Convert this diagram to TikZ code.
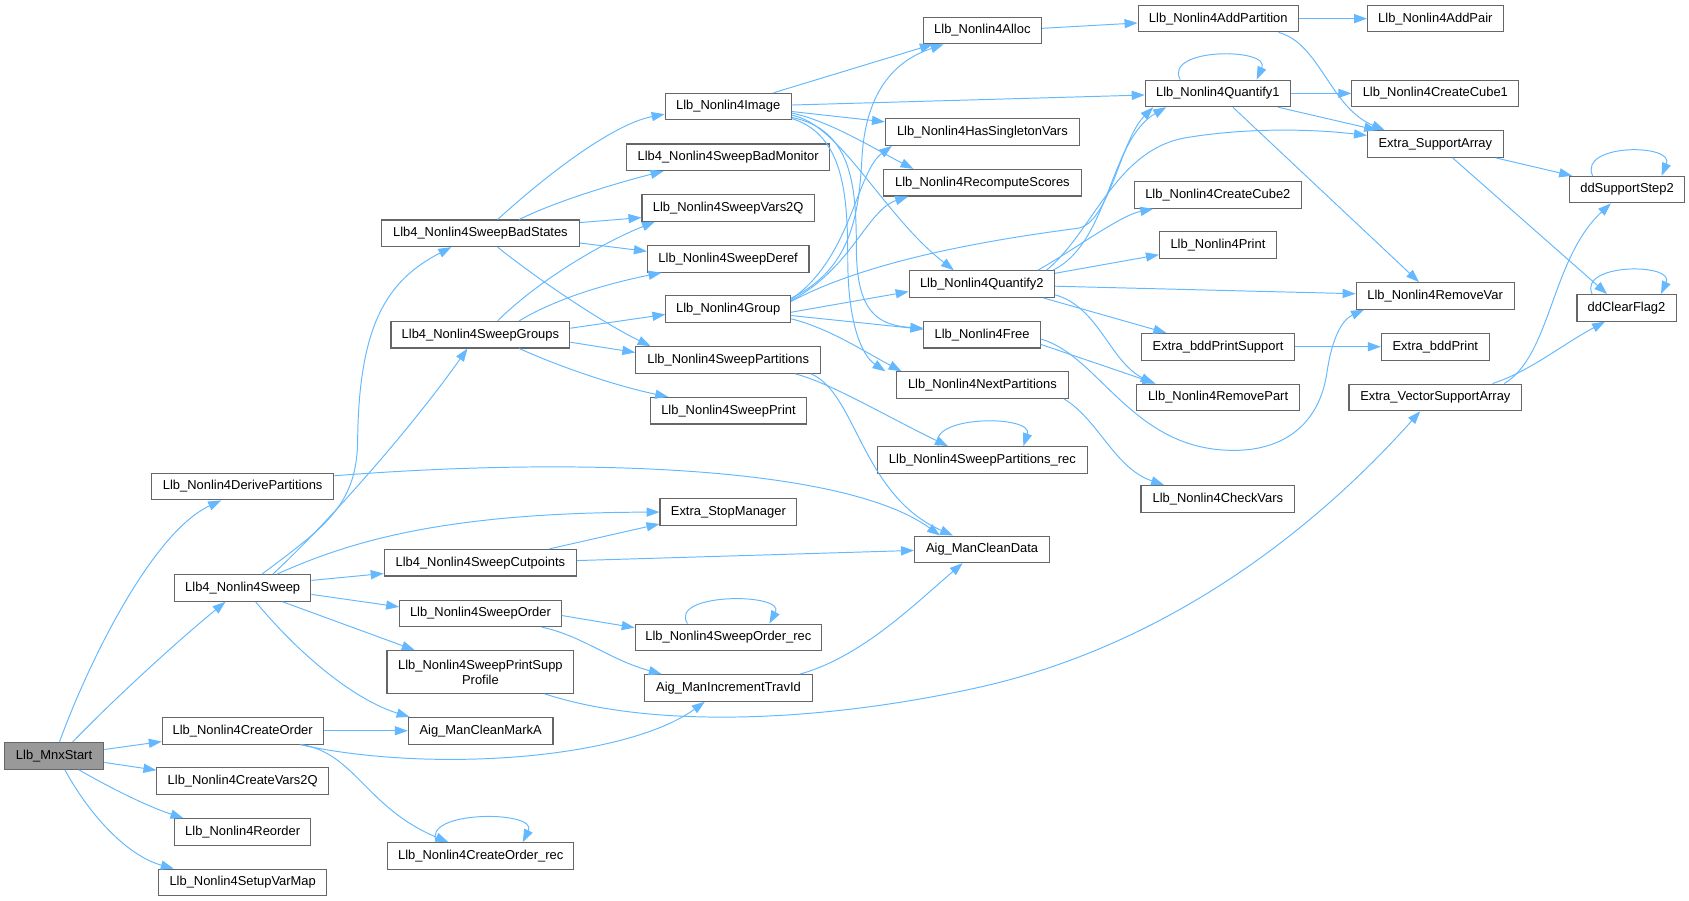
\documentclass[tikz,border=0pt]{standalone}
\usepackage{fontspec}
\setmainfont{Liberation Sans}
\usetikzlibrary{arrows.meta}

\definecolor{edgeblue}{HTML}{63B8FF}
\definecolor{nodeborder}{HTML}{666666}
\definecolor{rootfill}{HTML}{999999}

\tikzset{
  fn/.style={draw=nodeborder, line width=1pt, fill=white, rectangle,
    minimum height=24.7pt, inner sep=0pt, align=center,
    font=\fontsize{12}{14}\selectfont},
  root/.style={fn, fill=rootfill},
  w/.style={minimum width=#1pt},
  call/.style={draw=edgeblue, line width=0.9pt, -{Triangle[length=12pt,width=8.5pt]}}
}

\begin{document}
\begin{tikzpicture}[x=1pt, y=-1pt]
\useasboundingbox (0,0) rectangle (1568,836);

% Define boxes
\node[root, w=92.3] (mnxstart) at (50.2,701.8) {Llb\_MnxStart};

\node[fn, w=169.3] (derive) at (225.3,451.7) {Llb\_Nonlin4DerivePartitions};
\node[fn, w=126.7] (sweep) at (225.3,545.8) {Llb4\_Nonlin4Sweep};
\node[fn, w=149.3] (createorder) at (225.3,678.4) {Llb\_Nonlin4CreateOrder};
\node[fn, w=159.3] (createvars) at (225.3,725) {Llb\_Nonlin4CreateVars2Q};
\node[fn, w=126] (reorder) at (225.3,772.4) {Llb\_Nonlin4Reorder};
\node[fn, w=156] (setupvarmap) at (225.3,819.2) {Llb\_Nonlin4SetupVarMap};

\node[fn, w=184] (badstates) at (446,216.6) {Llb4\_Nonlin4SweepBadStates};
\node[fn, w=166] (groups) at (446,310.7) {Llb4\_Nonlin4SweepGroups};
\node[fn, w=178.7] (cutpoints) at (446,522.4) {Llb4\_Nonlin4SweepCutpoints};
\node[fn, w=150] (sweeporder) at (446,569.4) {Llb\_Nonlin4SweepOrder};
\node[fn, w=173.4, minimum height=39.7pt] (printsupp) at (446,623.9) {Llb\_Nonlin4SweepPrintSupp\\Profile};
\node[fn, w=134.3] (cleanmarka) at (446.2,678.4) {Aig\_ManCleanMarkA};
\node[fn, w=172.7] (createorderrec) at (446.3,794.7) {Llb\_Nonlin4CreateOrder\_rec};

\node[fn, w=117] (image) at (676,99) {Llb\_Nonlin4Image};
\node[fn, w=188] (badmonitor) at (676,146) {Llb4\_Nonlin4SweepBadMonitor};
\node[fn, w=160] (vars2q) at (676,193) {Llb\_Nonlin4SweepVars2Q};
\node[fn, w=150] (deref) at (676,240.3) {Llb\_Nonlin4SweepDeref};
\node[fn, w=115.6] (group) at (676,286.9) {Llb\_Nonlin4Group};
\node[fn, w=171.6] (partitions) at (676,334.2) {Llb\_Nonlin4SweepPartitions};
\node[fn, w=145.3] (sweepprint) at (676.3,381.3) {Llb\_Nonlin4SweepPrint};
\node[fn, w=127] (stopmanager) at (676.2,475.4) {Extra\_StopManager};
\node[fn, w=173] (orderrec) at (676.2,591.7) {Llb\_Nonlin4SweepOrder\_rec};
\node[fn, w=155.3] (travid) at (676.3,638.7) {Aig\_ManIncrementTravId};

\node[fn, w=110] (alloc) at (912,28.3) {Llb\_Nonlin4Alloc};
\node[fn, w=180] (singleton) at (912,122.6) {Llb\_Nonlin4HasSingletonVars};
\node[fn, w=184] (recompute) at (912,169.6) {Llb\_Nonlin4RecomputeScores};
\node[fn, w=135] (quantify2) at (911.5,263.7) {Llb\_Nonlin4Quantify2};
\node[fn, w=108] (free) at (911.7,310.7) {Llb\_Nonlin4Free};
\node[fn, w=160.3] (nextpart) at (912,357.6) {Llb\_Nonlin4NextPartitions};
\node[fn, w=194.7] (partrec) at (912,427) {Llb\_Nonlin4SweepPartitions\_rec};
\node[fn, w=125.4] (cleandata) at (911.7,510) {Aig\_ManCleanData};

\node[fn, w=149] (addpartition) at (1131,17.3) {Llb\_Nonlin4AddPartition};
\node[fn, w=135] (quantify1) at (1130.6,86.7) {Llb\_Nonlin4Quantify1};
\node[fn, w=155] (cube2) at (1130.6,181) {Llb\_Nonlin4CreateCube2};
\node[fn, w=108.7] (print) at (1130.7,227.5) {Llb\_Nonlin4Print};
\node[fn, w=141.6] (bddprintsupp) at (1130.8,321.9) {Extra\_bddPrintSupport};
\node[fn, w=151] (removepart) at (1130.8,368.9) {Llb\_Nonlin4RemovePart};
\node[fn, w=142.7] (checkvars) at (1130.6,463) {Llb\_Nonlin4CheckVars};

\node[fn, w=126] (addpair) at (1332.5,17.3) {Llb\_Nonlin4AddPair};
\node[fn, w=155] (cube1) at (1332.5,86.7) {Llb\_Nonlin4CreateCube1};
\node[fn, w=126] (supparray) at (1332.5,133.7) {Extra\_SupportArray};
\node[fn, w=146.7] (removevar) at (1332.3,274.7) {Llb\_Nonlin4RemoveVar};
\node[fn, w=100.3] (bddprint) at (1332.5,321.9) {Extra\_bddPrint};
\node[fn, w=160.3] (vecsupp) at (1332.5,368.9) {Extra\_VectorSupportArray};

\node[fn, w=107] (suppstep) at (1510.5,176) {ddSupportStep2};
\node[fn, w=92] (clearflag) at (1510,285.8) {ddClearFlag2};

% Draw arrows
\draw[call] ([xshift=5pt]mnxstart.north) .. controls (80,620) and (140,495) .. ([xshift=-20pt]derive.south);
\draw[call] ([xshift=17pt]mnxstart.north) .. controls (110,645) and (165,595) .. ([xshift=-16pt]sweep.south);
\draw[call] ([yshift=6pt]mnxstart.east) -- ([yshift=-10pt]createorder.west);
\draw[call] ([yshift=-6pt]mnxstart.east) -- ([yshift=10pt]createvars.west);
\draw[call] ([xshift=23pt]mnxstart.south) .. controls (100,730) and (135,748) .. ([xshift=-55pt]reorder.north);
\draw[call] ([xshift=10pt]mnxstart.south) .. controls (85,760) and (120,795) .. ([xshift=-64pt]setupvarmap.north);

\draw[call] ([xshift=18pt]sweep.north) .. controls (300,490) and (331,470) .. (332,410) .. controls (333,300) and (360,260) .. ([xshift=-27pt]badstates.south);
\draw[call] ([xshift=28pt]sweep.north) .. controls (300,490) and (380,400) .. ([xshift=-12pt]groups.south);
\draw[call] ([xshift=32pt]sweep.north) .. controls (330,500) and (420,476) .. (stopmanager.west);
\draw[call] ([yshift=7pt]sweep.east) -- ([yshift=-10pt]cutpoints.west);
\draw[call] ([yshift=-6pt]sweep.east) -- ([yshift=6pt]sweeporder.west);
\draw[call] ([xshift=37pt]sweep.south) -- ([xshift=-61pt]printsupp.north);
\draw[call] ([xshift=12pt]sweep.south) .. controls (280,610) and (330,650) .. ([xshift=-66pt]cleanmarka.north);

\draw[call] ([yshift=10pt]derive.east) .. controls (520,425) and (780,430) .. ([xshift=-39pt]cleandata.north);

\draw[call] ([xshift=16pt]badstates.north) .. controls (510,160) and (570,115) .. ([yshift=-7pt]image.west);
\draw[call] ([xshift=36pt]badstates.north) .. controls (520,185) and (580,168) .. ([xshift=-60pt]badmonitor.south);
\draw[call] ([yshift=10pt]badstates.east) -- ([yshift=-9pt]vars2q.west);
\draw[call] ([yshift=-9pt]badstates.east) -- ([yshift=7pt]deref.west);
\draw[call] ([xshift=16pt]badstates.south) .. controls (500,260) and (560,300) .. ([xshift=-72pt]partitions.north);

\draw[call] ([xshift=16pt]groups.north) .. controls (500,260) and (560,225) .. ([xshift=-68pt]vars2q.south);
\draw[call] ([xshift=36pt]groups.north) .. controls (520,275) and (570,262) .. ([xshift=-62pt]deref.south);
\draw[call] ([yshift=6pt]groups.east) -- ([yshift=-5pt]group.west);
\draw[call] ([yshift=-7pt]groups.east) -- ([yshift=7pt]partitions.west);
\draw[call] ([xshift=36pt]groups.south) .. controls (530,345) and (580,360) .. ([xshift=-56pt]sweepprint.north);

\draw[call] ([xshift=42pt]image.north) -- ([xshift=-46pt]alloc.south);
\draw[call] ([yshift=1.5pt]image.east) -- ([yshift=-1.5pt]quantify1.west);
\draw[call] ([yshift=-4.5pt]image.east) -- ([yshift=9.5pt]singleton.west);
\draw[call] ([yshift=-6pt]image.east) .. controls (770,112) and (815,140) .. ([xshift=-64pt]recompute.north);
\draw[call] ([yshift=-8pt]image.east) .. controls (780,115) and (820,200) .. ([xshift=-26pt]quantify2.north);
\draw[call] ([yshift=-10pt]image.east) .. controls (790,120) and (795,170) .. (795,230) .. controls (795,290) and (815,302) .. ([yshift=6pt]free.west);
\draw[call] ([yshift=-11pt]image.east) .. controls (783,125) and (787,180) .. (787,240) .. controls (787,300) and (800,330) .. ([xshift=-90pt]nextpart.north);

\draw[call] ([yshift=10pt]group.east) .. controls (790,250) and (797,200) .. (800,150) .. controls (803,80) and (835,55) .. ([xshift=-36pt]alloc.south);
\draw[call] ([yshift=9pt]group.east) .. controls (790,240) and (795,160) .. ([xshift=-84pt]singleton.south);
\draw[call] ([yshift=8pt]group.east) .. controls (790,250) and (805,195) .. ([xshift=-69pt]recompute.south);
\draw[call] ([yshift=7pt]group.east) .. controls (800,245) and (900,225) .. (1000,212) .. controls (1030,208) and (1040,130) .. ([xshift=-60pt]quantify1.south);
\draw[call] ([yshift=-3pt]group.east) -- ([yshift=-7pt]quantify2.west);
\draw[call] ([yshift=-6pt]group.east) -- ([yshift=5pt]free.west);
\draw[call] ([yshift=-9pt]group.east) .. controls (770,305) and (800,325) .. ([xshift=-75pt]nextpart.north);

\draw[call] ([xshift=66pt]quantify2.north) .. controls (1030,225) and (1030,130) .. ([xshift=-48pt]quantify1.south);
\draw[call] ([xshift=60pt]quantify2.north) .. controls (1015,215) and (1035,140) .. (1100,128) .. controls (1160,118) and (1220,120) .. ([yshift=8pt]supparray.west);
\draw[call] ([xshift=52pt]quantify2.north) .. controls (1000,230) and (1040,200) .. ([xshift=-60pt]cube2.south);
\draw[call] ([yshift=10pt]quantify2.east) -- ([yshift=-9pt]print.west);
\draw[call] ([yshift=-2pt]quantify2.east) -- ([yshift=2pt]removevar.west);
\draw[call] ([xshift=57pt]quantify2.south) -- ([xshift=-48pt]bddprintsupp.north);
\draw[call] ([yshift=-10pt]quantify2.east) .. controls (1020,285) and (1030,335) .. ([xshift=-60pt]removepart.north);

\draw[call] ([yshift=-9pt]free.east) -- ([xshift=-58pt]removepart.north);
\draw[call] ([yshift=-4pt]free.east) .. controls (1020,330) and (1050,415) .. (1140,418) .. controls (1190,420) and (1225,395) .. (1232,345) .. controls (1238,305) and (1250,295) .. ([xshift=-66pt]removevar.south);

\draw[call] ([xshift=76pt]nextpart.south) .. controls (1020,390) and (1035,435) .. ([xshift=-50pt]checkvars.north);

\draw[call] ([xshift=62pt]partitions.south) .. controls (770,355) and (820,385) .. ([xshift=-32pt]partrec.north);
\draw[call] ([xshift=77pt]partitions.south) .. controls (795,365) and (800,460) .. ([xshift=-27pt]cleandata.north);
\draw[call] ([xshift=-41pt]partrec.north) .. controls (860,385) and (960,385) .. ([xshift=38pt]partrec.north);

\draw[call] ([xshift=64pt]cutpoints.north) -- ([yshift=-11pt]stopmanager.west);
\draw[call] ([yshift=2pt]cutpoints.east) -- ([yshift=-1pt]cleandata.west);

\draw[call] ([yshift=-2pt]sweeporder.east) -- ([yshift=9pt]orderrec.west);
\draw[call] ([xshift=57pt]sweeporder.south) .. controls (540,590) and (565,612) .. ([xshift=-62pt]travid.north);
\draw[call] ([xshift=-38pt]orderrec.north) .. controls (620,550) and (730,550) .. ([xshift=38pt]orderrec.north);

\draw[call] ([xshift=66pt]travid.north) .. controls (800,610) and (850,560) .. ([xshift=-18pt]cleandata.south);
\draw[call] ([xshift=60pt]printsupp.south) .. controls (600,675) and (750,672) .. (900,640) .. controls (1100,598) and (1240,470) .. ([xshift=-14pt]vecsupp.south);

\draw[call] (createorder.east) -- (cleanmarka.west);
\draw[call] ([xshift=53pt]createorder.south) .. controls (400,718) and (580,705) .. ([xshift=-22pt]travid.south);
\draw[call] ([xshift=55pt]createorder.south) .. controls (330,700) and (340,750) .. ([xshift=-30pt]createorderrec.north);
\draw[call] ([xshift=-41pt]createorderrec.north) .. controls (390,752) and (500,752) .. ([xshift=39pt]createorderrec.north);

\draw[call] ([yshift=2pt]alloc.east) -- ([yshift=-4pt]addpartition.west);
\draw[call] (addpartition.east) -- (addpair.west);
\draw[call] ([xshift=56pt]addpartition.south) .. controls (1225,40) and (1235,100) .. ([xshift=-47pt]supparray.north);
\draw[call] ([xshift=-35pt]quantify1.north) .. controls (1080,44) and (1180,44) .. ([xshift=36pt]quantify1.north);
\draw[call] (quantify1.east) -- (cube1.west);
\draw[call] ([xshift=56pt]quantify1.south) -- ([xshift=-54pt]supparray.north);
\draw[call] ([xshift=14pt]quantify1.south) -- ([xshift=-15pt]removevar.north);
\draw[call] ([xshift=56pt]supparray.south) -- ([xshift=3pt]suppstep.north west);
\draw[call] ([xshift=16pt]supparray.south) -- ([xshift=-18pt]clearflag.north);
\draw[call] ([xshift=-32pt]suppstep.north) .. controls (1465,133) and (1555,133) .. ([xshift=32pt]suppstep.north);
\draw[call] ([xshift=-32pt]clearflag.north) .. controls (1465,244) and (1555,244) .. ([xshift=32pt]clearflag.north);
\draw[call] ([xshift=64pt]vecsupp.north) .. controls (1440,330) and (1440,240) .. ([xshift=-15pt]suppstep.south);
\draw[call] ([xshift=53pt]vecsupp.north) .. controls (1420,345) and (1450,320) .. ([xshift=-20pt]clearflag.south);
\draw[call] (bddprintsupp.east) -- (bddprint.west);

\end{tikzpicture}
\end{document}
